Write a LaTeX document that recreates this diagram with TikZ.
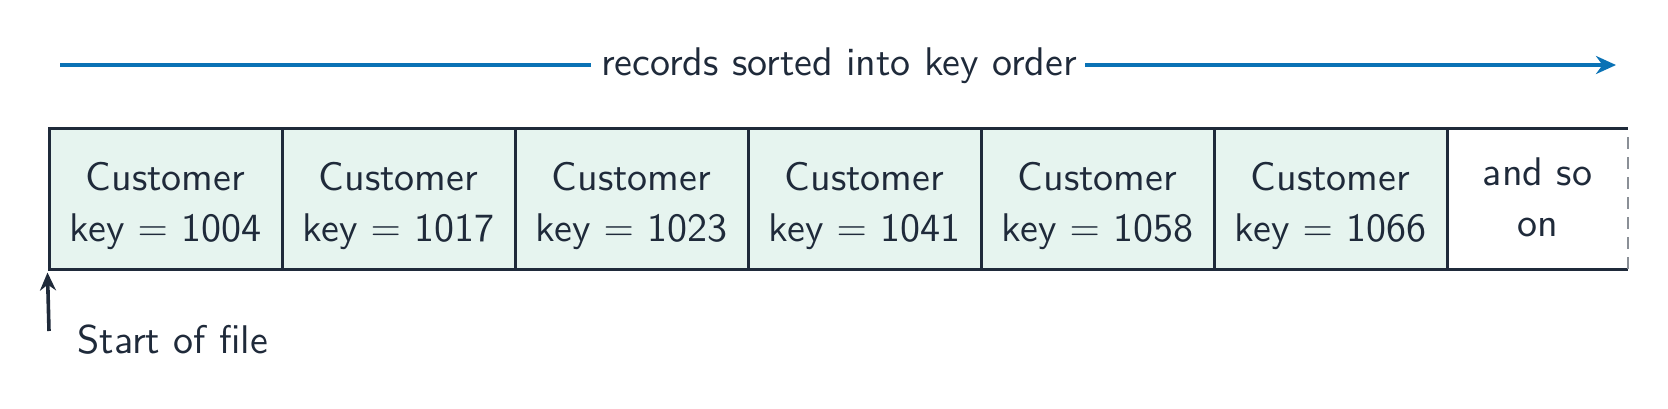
\documentclass[tikz,border=0pt]{standalone}
\usepackage{fontspec}
\setsansfont{lmsans10-regular}[Extension=.otf]
\usetikzlibrary{arrows.meta}
\definecolor{ink}{HTML}{1F2A3A}
\definecolor{mint}{HTML}{E6F4EF}
\definecolor{flowblue}{HTML}{0A72B5}
\definecolor{dashgrey}{HTML}{8A8F96}
\tikzset{
  recbox/.style={draw=ink, line width=1.5pt, fill=mint, minimum width=116.5pt, minimum height=70.5pt, inner sep=0pt},
  lbl/.style={text=ink, inner sep=0pt, font=\sffamily\fontsize{20}{25.5}\selectfont},
  celltext/.style={lbl, align=center},
}
\begin{document}
\begin{tikzpicture}[x=0.5pt,y=-0.5pt]
\useasboundingbox (0,0) rectangle (1668,408);
% records
\foreach \i/\k/\x in {1/1004/165.5, 2/1017/398.5, 3/1023/631.5, 4/1041/864.5, 5/1058/1097.5, 6/1066/1330.5}{
  \node[recbox] (r\i) at (\x,198.5) {};
  \node[celltext, anchor=base] (t\i) at (\x,241) {Customer\\key $=$ \k};
}
% open-ended last cell
\coordinate (tl) at (1447,128);
\coordinate (tr) at (1628,128);
\coordinate (bl) at (1447,269);
\coordinate (br) at (1628,269);
\draw[ink, line width=1.5pt] (tl) -- (tr);
\draw[ink, line width=1.5pt] (bl) -- (br);
\draw[dashgrey, line width=1.3pt, dash pattern=on 6pt off 4pt] (1628,137) -- (br);
\node[celltext, anchor=base] (more) at (1537.5,236) {and so\\on};
% sorted arrow
\node[lbl, anchor=base] (sorted) at (839,75) {records sorted into key order};
\coordinate (as) at (60,65);
\coordinate (ae) at (1616,65);
\draw[flowblue, line width=2pt] (as) -- ([xshift=-5pt]sorted.west |- as);
\draw[flowblue, line width=2pt, -{Stealth[length=10pt,width=9pt]}] ([xshift=4pt]sorted.east |- as) -- (ae);
% start of file
\coordinate (sf) at (49,331);
\draw[ink, line width=1.8pt, -{Stealth[length=9pt,width=8pt]}] (sf) -- ([yshift=-1pt]r1.south west);
\node[lbl, anchor=base west] (start) at (77,353) {Start of file};
\end{tikzpicture}
\end{document}
